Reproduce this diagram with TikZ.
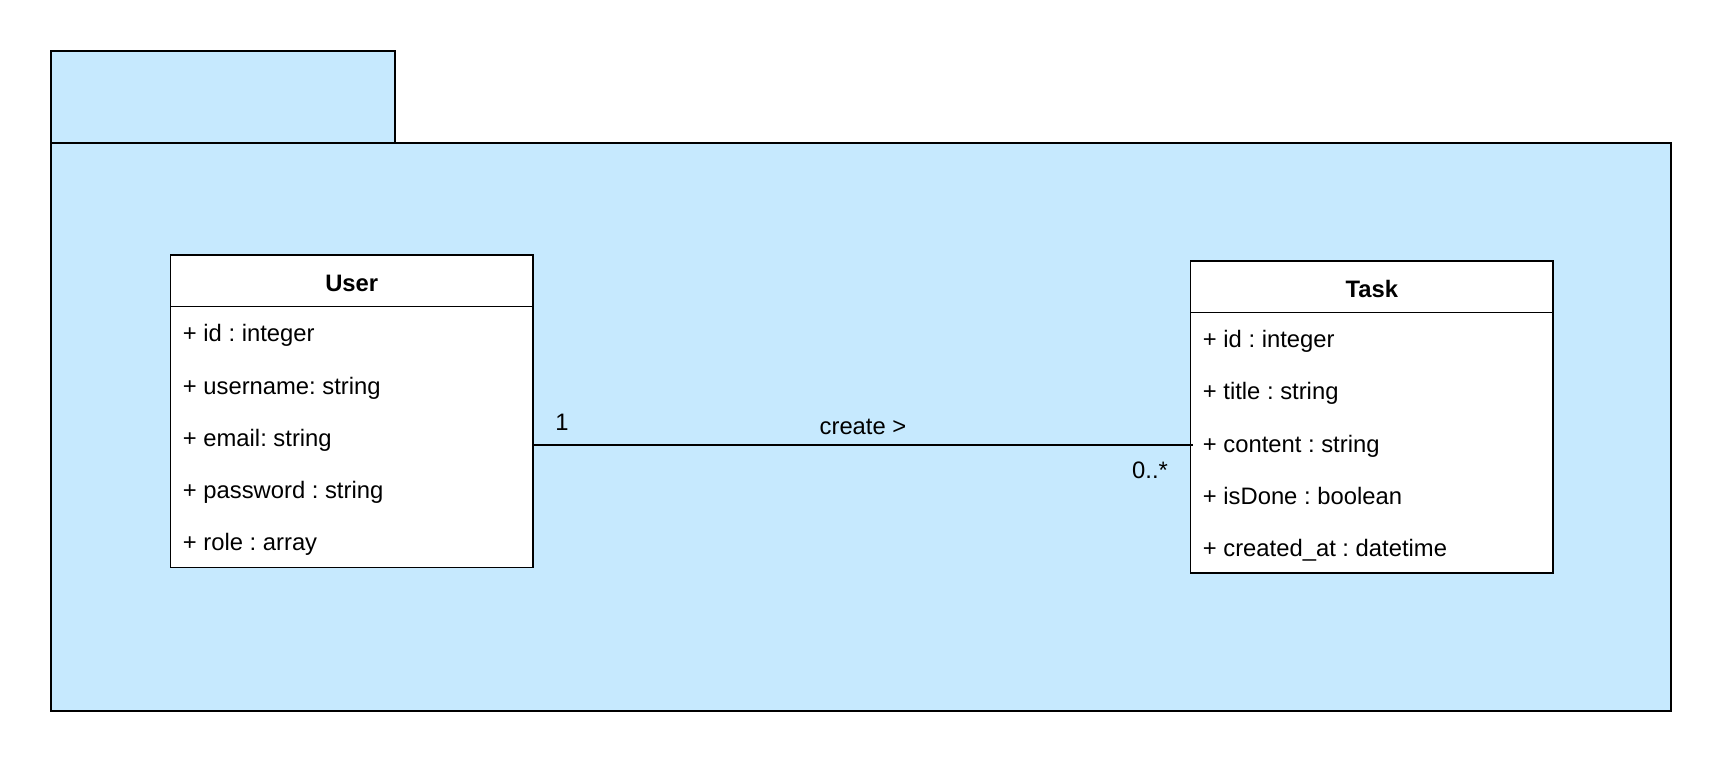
\documentclass[tikz,border=0pt]{standalone}
\usepackage{fontspec}
\setmainfont{Liberation Sans}
\frenchspacing
\definecolor{pkgblue}{RGB}{198,233,254}
\tikzset{
  pkgshape/.style={draw=black, fill=pkgblue, line width=1pt, inner sep=0pt, outer sep=0pt},
  classbox/.style={draw=black, fill=white, line width=0.7pt, inner sep=0pt, outer sep=0pt, minimum width=181.25pt},
  attr/.style={anchor=base west, inner sep=0pt, font=\fontsize{11.9pt}{14pt}\selectfont},
  ctitle/.style={anchor=base, inner sep=0pt, font=\fontsize{11.9pt}{14pt}\selectfont\bfseries},
  lbl/.style={anchor=base, inner sep=0pt, font=\fontsize{11.9pt}{14pt}\selectfont},
  assoc/.style={draw=black, line width=0.7pt}
}
\begin{document}
\begin{tikzpicture}[x=0.5pt,y=-0.5pt]
\useasboundingbox (0,0) rectangle (1722,762);
% package
\node[pkgshape, minimum width=810pt, minimum height=283.85pt] (body) at (860.5,426.65) {};
\node[pkgshape, minimum width=172.25pt, minimum height=46.15pt] (tab) at (222.75,96.65) {};
% User class
\node[classbox, minimum height=156.25pt] (user) at (351.75,411.25) {};
\draw[line width=0.7pt] (170.5,306.5) -- (533,306.5);
\node[ctitle] (utitle) at (351.75,291.5) {User};
\node[attr] (u1) at (182.5,341.8) {+ id : integer};
\node[attr] (u2) at (182.5,394) {+ username: string};
\node[attr] (u3) at (182.5,446.2) {+ email: string};
\node[attr] (u4) at (182.5,498.4) {+ password : string};
\node[attr] (u5) at (182.5,550.6) {+ role : array};
% Task class
\node[classbox, minimum height=156pt] (task) at (1371.75,417) {};
\draw[line width=0.7pt] (1190.5,312.5) -- (1553,312.5);
\node[ctitle] (ttitle) at (1371.75,297.5) {Task};
\node[attr] (t1) at (1202.5,347.8) {+ id : integer};
\node[attr] (t2) at (1202.5,399.9) {+ title : string};
\node[attr] (t3) at (1202.5,452) {+ content : string};
\node[attr] (t4) at (1202.5,504.1) {+ isDone : boolean};
\node[attr] (t5) at (1202.5,556.2) {+ created\_at : datetime};
% association
\coordinate (ly) at (0,444.8);
\draw[assoc] (user.east |- ly) -- ([xshift=1pt]task.west |- ly);
\node[lbl] (m1) at (562,430) {1};
\node[lbl] (rel) at (863,434.5) {create >};
\node[lbl] (m2) at (1150,478) {0..*};
\end{tikzpicture}
\end{document}
